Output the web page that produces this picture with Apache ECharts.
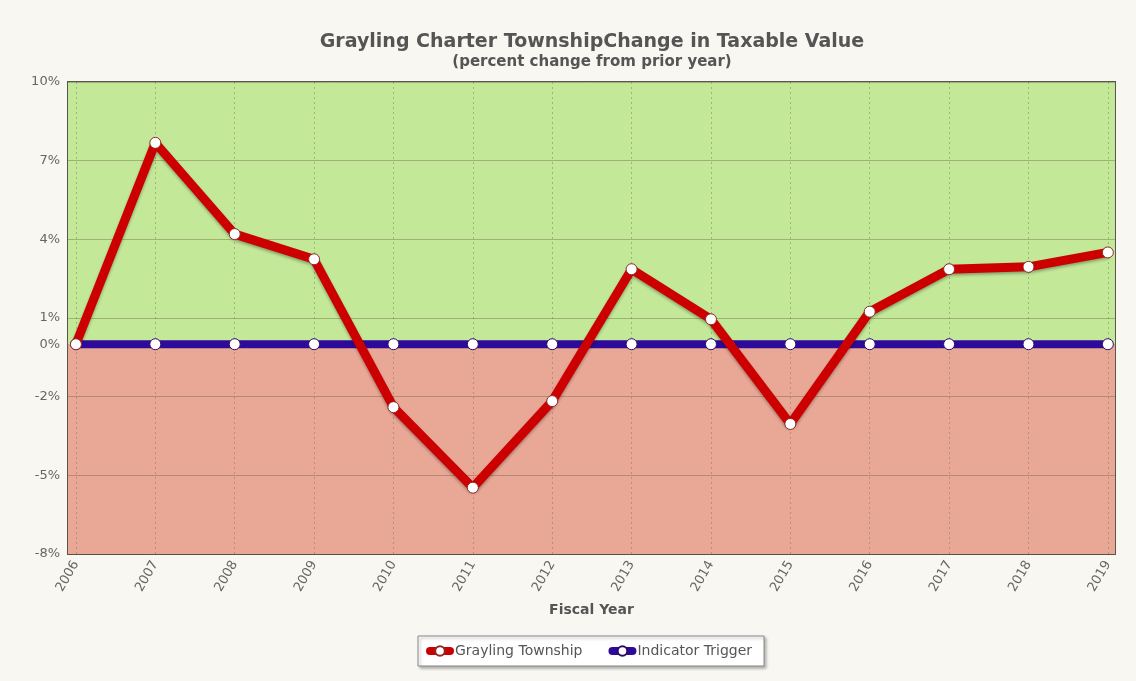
<!DOCTYPE html>
<html>
<head>
<meta charset="utf-8">
<script src="https://cdn.jsdelivr.net/npm/echarts@6/dist/echarts.min.js"></script>
<style>
  html, body { margin: 0; padding: 0; background: #f8f7f2; }
  #chart { width: 1136px; height: 681px; }
</style>
</head>
<body>
<div id="chart"></div>
<script>
const years = [2006, 2007, 2008, 2009, 2010, 2011, 2012, 2013, 2014, 2015, 2016, 2017, 2018, 2019];
const townshipChange = [0, 7.68, 4.2, 3.24, -2.4, -5.47, -2.17, 2.86, 0.95, -3.04, 1.24, 2.86, 2.95, 3.5];
const triggerValues = [0, 0, 0, 0, 0, 0, 0, 0, 0, 0, 0, 0, 0, 0];
const yLabelValues = [-8, -5, -2, 0, 1, 4, 7, 10];

const font = "DejaVu Sans";
const chart = echarts.init(document.getElementById("chart"));

const pairs = (vals) => years.map((y, i) => [y, vals[i]]);

chart.setOption({
  backgroundColor: "#f8f7f2",
  textStyle: { fontFamily: font },
  title: {
    left: 587,
    top: 28,
    textAlign: "center",
    text: "Grayling Charter TownshipChange in Taxable Value",
    subtext: "(percent change from prior year)",
    itemGap: 3,
    textStyle: { fontFamily: font, fontSize: 19, fontWeight: "bold", color: "#555" },
    subtextStyle: { fontFamily: font, fontSize: 15, fontWeight: "bold", color: "#555" },
  },
  legend: {
    bottom: 15,
    left: 418,
    padding: [8, 12, 8, 8],
    backgroundColor: "#fff",
    borderColor: "#888",
    borderWidth: 1,
    shadowColor: "rgba(0,0,0,0.3)",
    shadowBlur: 3,
    shadowOffsetX: 2,
    shadowOffsetY: 2,
    itemWidth: 20,
    itemHeight: 12,
    itemGap: 26,
    lineStyle: { width: 8, cap: "round" },
    textStyle: { fontFamily: font, fontSize: 14, color: "#555" },
    data: ["Grayling Township", "Indicator Trigger"],
  },
  grid: {
    left: 68,
    right: 21,
    top: 82,
    bottom: 127,
    show: true,
    borderColor: "#5a5550",
    borderWidth: 2,
  },
  xAxis: {
    type: "value",
    z: 2,
    min: 2005.9,
    max: 2019.09,
    name: "Fiscal Year",
    nameLocation: "middle",
    nameGap: 49,
    nameTextStyle: { fontFamily: font, fontSize: 14, fontWeight: "bold", color: "#555" },
    axisLine: { show: false },
    axisTick: { show: false, customValues: years },
    axisLabel: {
      customValues: years,
      rotate: 60,
      margin: 8,
      fontFamily: font,
      fontSize: 13,
      color: "#666",
      formatter: (v) => String(Math.round(v)),
    },
    splitLine: { show: true, lineStyle: { color: "rgba(110,100,80,0.4)", type: [2, 3], width: 1 } },
  },
  yAxis: {
    type: "value",
    z: 2,
    min: -8,
    max: 10,
    interval: 3,
    axisLine: { show: false },
    axisTick: { show: false },
    axisLabel: {
      customValues: yLabelValues,
      margin: 8,
      fontFamily: font,
      fontSize: 13,
      color: "#666",
      formatter: "{value}%",
    },
    splitLine: { show: true, lineStyle: { color: "rgba(90,80,50,0.35)", width: 1 } },
  },
  series: [
    {
      // background bands only
      type: "line",
      z: 0,
      silent: true,
      data: pairs(triggerValues),
      symbol: "none",
      lineStyle: { opacity: 0 },
      markArea: {
        silent: true,
        z: 1,
        data: [
          [{ yAxis: 0, itemStyle: { color: "#c2e898" } }, { yAxis: 10 }],
          [{ yAxis: -8, itemStyle: { color: "#e9a896" } }, { yAxis: 0 }],
        ],
      },
    },
    {
      name: "Grayling Township",
      type: "line",
      data: pairs(townshipChange),
      z: 4,
      symbol: "circle",
      symbolSize: 11,
      color: "#cc0000",
      lineStyle: {
        color: "#cc0000",
        width: 9,
        shadowColor: "rgba(0,0,0,0.3)",
        shadowBlur: 3,
        shadowOffsetY: 2,
      },
      itemStyle: { color: "#fff", borderColor: "#8a2a2a", borderWidth: 1 },
    },
    {
      name: "Indicator Trigger",
      type: "line",
      data: pairs(triggerValues),
      z: 3,
      symbol: "circle",
      symbolSize: 11,
      color: "#2e0a9a",
      lineStyle: { color: "#2e0a9a", width: 8 },
      itemStyle: { color: "#fff", borderColor: "#2e0a6a", borderWidth: 1 },
    },
  ],
});
</script>
</body>
</html>
